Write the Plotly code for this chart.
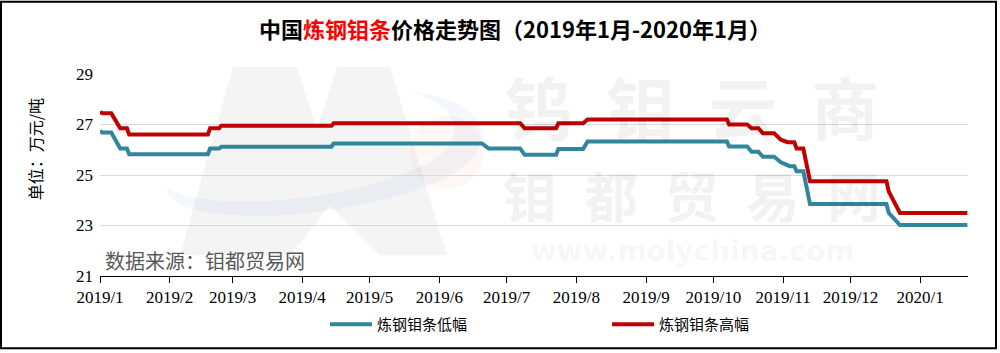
import plotly.graph_objects as go

# ---- data ----
high_dates = ["2019-01-01", "2019-01-02", "2019-01-06", "2019-01-10", "2019-01-13", "2019-01-14",
              "2019-02-18", "2019-02-19", "2019-02-23", "2019-02-24", "2019-04-14", "2019-04-15",
              "2019-07-07", "2019-07-09", "2019-07-23", "2019-07-24", "2019-08-04", "2019-08-06",
              "2019-10-07", "2019-10-08", "2019-10-16", "2019-10-18", "2019-10-21", "2019-10-23",
              "2019-10-28", "2019-10-31", "2019-11-03", "2019-11-06", "2019-11-07", "2019-11-10",
              "2019-11-13", "2019-12-17", "2019-12-18", "2019-12-23", "2020-01-22"]
high_vals = [27.5, 27.45, 27.45, 26.85, 26.85, 26.6,
             26.6, 26.85, 26.85, 26.95, 26.95, 27.05,
             27.05, 26.85, 26.85, 27.05, 27.05, 27.2,
             27.2, 27.0, 27.0, 26.85, 26.85, 26.65,
             26.65, 26.4, 26.3, 26.3, 26.05, 26.05,
             24.75, 24.75, 24.35, 23.5, 23.5]

low_dates = ["2019-01-01", "2019-01-02", "2019-01-06", "2019-01-10", "2019-01-13", "2019-01-14",
             "2019-02-18", "2019-02-19", "2019-02-23", "2019-02-24", "2019-04-14", "2019-04-15",
             "2019-06-20", "2019-06-23", "2019-07-07", "2019-07-09", "2019-07-23", "2019-07-24",
             "2019-08-04", "2019-08-06", "2019-10-07", "2019-10-08", "2019-10-16", "2019-10-18",
             "2019-10-21", "2019-10-23", "2019-10-28", "2019-10-31", "2019-11-04", "2019-11-06",
             "2019-11-07", "2019-11-10", "2019-11-13", "2019-12-17", "2019-12-18", "2019-12-23",
             "2020-01-22"]
low_vals = [26.75, 26.68, 26.68, 26.05, 26.05, 25.82,
            25.82, 26.05, 26.05, 26.12, 26.12, 26.25,
            26.25, 26.05, 26.05, 25.8, 25.8, 26.03,
            26.03, 26.33, 26.33, 26.13, 26.13, 25.92,
            25.92, 25.72, 25.72, 25.5, 25.35, 25.35,
            25.15, 25.15, 23.85, 23.85, 23.5, 23.02,
            23.02]

tick_dates = ["2019-01-01", "2019-02-01", "2019-03-01", "2019-04-01", "2019-05-01", "2019-06-01",
              "2019-07-01", "2019-08-01", "2019-09-01", "2019-10-01", "2019-11-01", "2019-12-01",
              "2020-01-01"]
tick_labels = ["2019/1", "2019/2", "2019/3", "2019/4", "2019/5", "2019/6", "2019/7", "2019/8",
               "2019/9", "2019/10", "2019/11", "2019/12", "2020/1"]
y_ticks = [21, 23, 25, 27, 29]

name_low = "炼钢钼条低幅"
name_high = "炼钢钼条高幅"

BLUE = "#31859C"
RED = "#C00000"

fig = go.Figure()
fig.add_trace(go.Scatter(x=low_dates, y=low_vals, mode="lines", name=name_low,
                         line=dict(color=BLUE, width=4)))
fig.add_trace(go.Scatter(x=high_dates, y=high_vals, mode="lines", name=name_high,
                         line=dict(color=RED, width=4)))

L, R, T, B = 100, 32, 74, 75
W, H = 1000, 353
pw, ph = W - L - R, H - T - B


def px(x):
    return (x - L) / pw


def py(y):
    return (H - B - y) / ph


def path(pts_cmds):
    out = []
    for cmd, *pts in pts_cmds:
        coords = " ".join(f"{px(a)},{py(b)}" for a, b in pts)
        out.append(f"{cmd} {coords}".strip())
    return " ".join(out)


WM = "rgba(0,0,0,0.05)"
EN = "\u2002"
annotations = [
    dict(text="中国<span style='color:#FF0000'>炼钢钼条</span>价格走势图（2019年1月-2020年1月）",
         x=px(515), xref="paper", y=py(28), yref="paper", showarrow=False,
         font=dict(family="Noto Sans CJK SC", size=22, color="#000000", weight="bold"),
         xanchor="center", yanchor="middle"),
    dict(text="单位：万元/吨", textangle=-90, x=px(35), y=py(150), xref="paper", yref="paper",
         showarrow=False, font=dict(family="Noto Sans CJK SC", size=16, color="#000000"),
         xanchor="center", yanchor="middle"),
    dict(text="数据来源：钼都贸易网", x=px(103), y=py(262), xref="paper", yref="paper",
         showarrow=False, font=dict(family="Noto Sans CJK SC", size=20, color="#595959"),
         xanchor="left", yanchor="middle"),
    # watermark
    dict(text=EN.join("钨钼云商"), x=px(692), y=py(106), xref="paper", yref="paper", showarrow=False,
         font=dict(family="Noto Sans CJK SC", size=68, color=WM, weight="bold"),
         xanchor="center", yanchor="middle"),
    dict(text=EN.join("钼都贸易网"), x=px(692), y=py(196), xref="paper", yref="paper", showarrow=False,
         font=dict(family="Noto Sans CJK SC", size=54, color=WM, weight="bold"),
         xanchor="center", yanchor="middle"),
    dict(text="www.molychina.com", x=px(692), y=py(253), xref="paper", yref="paper", showarrow=False,
         font=dict(family="DejaVu Sans", size=28, color=WM, weight="bold"),
         xanchor="center", yanchor="middle"),
]

shapes = [
    dict(type="rect", xref="paper", yref="paper", x0=px(1), x1=px(996), y0=py(351), y1=py(1),
         line=dict(color="#000000", width=2), fillcolor="rgba(0,0,0,0)", layer="above"),
    # faint "M" logo
    dict(type="path", xref="paper", yref="paper",
         path=path([("M", (180, 257)), ("L", (233, 67)), ("L", (297, 67)), ("L", (317, 130)),
                    ("L", (337, 67)), ("L", (390, 67)), ("L", (447, 257)), ("L", (380, 257)),
                    ("L", (330, 207)), ("L", (290, 257)), ("Z",)]),
         line=dict(width=0), fillcolor="rgba(0,0,0,0.045)", layer="below"),
    # faint orange circle
    dict(type="circle", xref="paper", yref="paper", x0=px(410), x1=px(484), y0=py(190), y1=py(116),
         line=dict(width=0), fillcolor="rgba(240,120,60,0.06)", layer="below"),
    # faint blue swoosh
    dict(type="path", xref="paper", yref="paper",
         path=path([("M", (167, 188)), ("C", (165, 228), (330, 228), (440, 182)),
                    ("C", (505, 152), (495, 100), (410, 92)),
                    ("C", (465, 108), (470, 145), (420, 168)),
                    ("C", (330, 208), (200, 212), (167, 188)), ("Z",)]),
         line=dict(width=0), fillcolor="rgba(60,120,200,0.06)", layer="below"),
]

fig.update_layout(
    width=W, height=H,
    margin=dict(l=L, r=R, t=T, b=B),
    paper_bgcolor="#FFFFFF", plot_bgcolor="#FFFFFF",
    font=dict(family="Liberation Sans Narrow", size=17, color="#000000"),
    showlegend=True,
    legend=dict(orientation="h", x=px(325), xanchor="left", y=py(327), yanchor="middle",
                font=dict(family="Noto Sans CJK SC", size=15, color="#000000"),
                entrywidth=225, entrywidthmode="pixels", itemwidth=42),
    annotations=annotations,
    shapes=shapes,
    xaxis=dict(type="date", range=["2019-01-01", "2020-01-22 07:00"],
               tickvals=tick_dates, ticktext=tick_labels,
               showgrid=False, showline=True, linecolor="#000000", linewidth=1,
               ticks="outside", ticklen=6, tickcolor="#000000",
               tickfont=dict(family="Liberation Sans Narrow", size=17, color="#000000"),
               zeroline=False, fixedrange=True),
    yaxis=dict(range=[21, 29], tickvals=y_ticks, showgrid=True, gridcolor="#D9D9D9", gridwidth=1,
               showline=False, zeroline=False, ticks="", ticklen=0, ticklabelstandoff=6,
               tickfont=dict(family="Liberation Sans Narrow", size=17, color="#000000")),
)

fig.write_html("out.html")
